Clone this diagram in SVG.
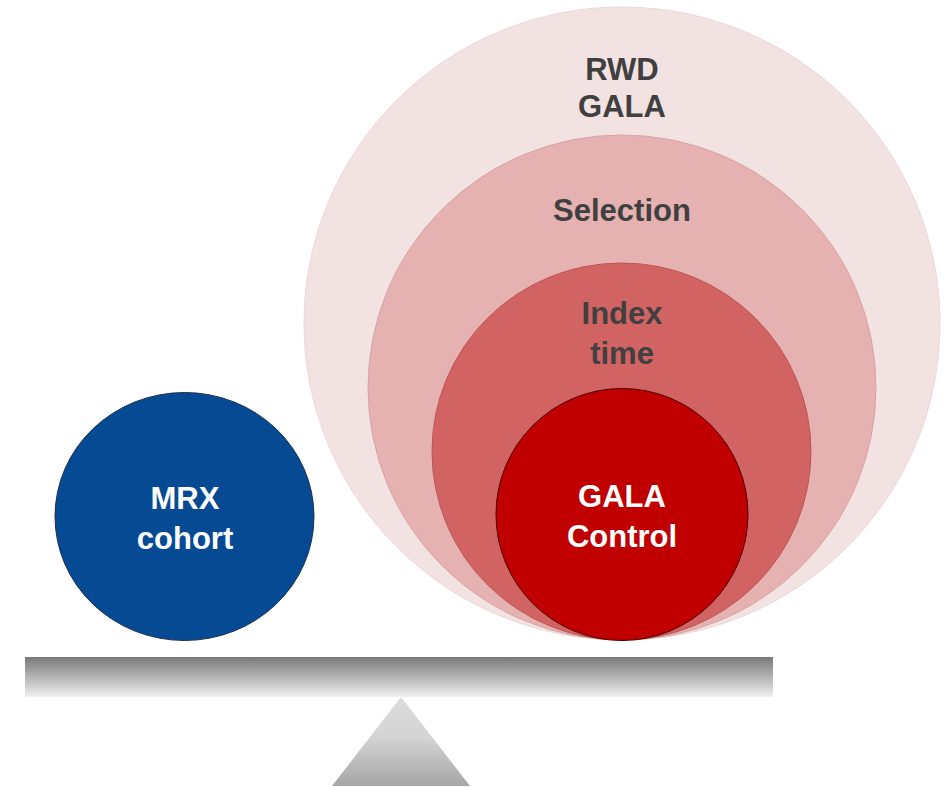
<svg xmlns="http://www.w3.org/2000/svg" width="945" height="787" viewBox="0 0 945 787">
<defs>
<linearGradient id="barGrad" x1="0" y1="0" x2="0" y2="1">
<stop offset="0" stop-color="#7a7a7a"/>
<stop offset="0.5" stop-color="#b4b4b4"/>
<stop offset="1" stop-color="#f0f0f0"/>
</linearGradient>
<linearGradient id="triGrad" x1="0" y1="0" x2="0" y2="1">
<stop offset="0" stop-color="#dcdcdc"/>
<stop offset="0.45" stop-color="#d4d4d4"/>
<stop offset="1" stop-color="#a6a6a6"/>
</linearGradient>
<style>
.lbl{font-family:"Liberation Sans",Arial,sans-serif;font-weight:bold;font-size:31px;text-anchor:middle}
.dark{fill:#404040}
.light{fill:#ffffff}
</style>
</defs>
<g id="rwd-gala">
<ellipse cx="622" cy="323.5" rx="318" ry="316.5" fill="#f2e2e2" stroke="#ecd8d8" stroke-width="1"/>
<text class="lbl dark" x="622" y="80">RWD</text>
<text class="lbl dark" x="622" y="117">GALA</text>
</g>
<g id="selection">
<ellipse cx="622" cy="387.5" rx="254" ry="252.5" fill="#e5b1b1" stroke="#d9a3a3" stroke-width="1"/>
<text class="lbl dark" x="622" y="221">Selection</text>
</g>
<g id="index-time">
<ellipse cx="621.5" cy="451.5" rx="189.5" ry="188.5" fill="#d26363" stroke="#bf5656" stroke-width="1"/>
<text class="lbl dark" x="622" y="324">Index</text>
<text class="lbl dark" x="622" y="364">time</text>
</g>
<g id="gala-control">
<ellipse cx="622" cy="514.5" rx="126" ry="126" fill="#c00000" stroke="#4a0000" stroke-width="1"/>
<text class="lbl light" x="622" y="507">GALA</text>
<text class="lbl light" x="622" y="547">Control</text>
</g>
<g id="mrx-cohort">
<ellipse cx="184.5" cy="516.5" rx="129.5" ry="124" fill="#064a94" stroke="#1d2f4a" stroke-width="1"/>
<text class="lbl light" x="185" y="509">MRX</text>
<text class="lbl light" x="185" y="549">cohort</text>
</g>
<g id="seesaw">
<rect x="25" y="657" width="748" height="40" fill="url(#barGrad)"/>
<polygon points="401,697 470,786 332,786" fill="url(#triGrad)"/>
</g>
<g id="connectors"/>
</svg>
